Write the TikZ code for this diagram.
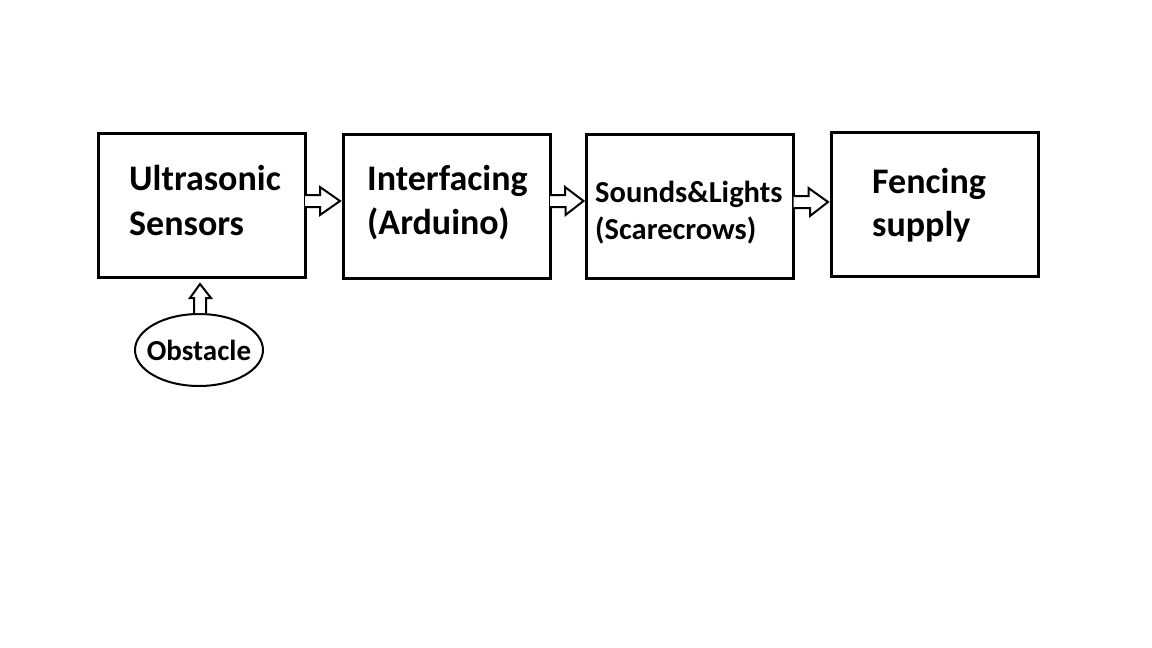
\documentclass[tikz,border=0pt]{standalone}
\usepackage{fontspec}
\setmainfont{Carlito}
\usetikzlibrary{shapes.geometric}
\begin{document}
\begin{tikzpicture}[x=1pt,y=-1pt,
  boxnode/.style={draw=black,line width=3pt,minimum width=207pt,minimum height=144pt,inner sep=0pt,outer sep=0pt},
  bigtxt/.style={font=\fontsize{36}{36}\selectfont\bfseries,anchor=base west,inner sep=0pt},
  midtxt/.style={font=\fontsize{30.5}{30.5}\selectfont\bfseries,anchor=base west,inner sep=0pt},
  hollowarrow/.style={draw=black,line width=2pt,fill=white,line join=miter}]
\useasboundingbox (0,0) rectangle (1152,648);
\fill[white] (0,0) rectangle (1152,648);
% boxes
\node[boxnode] (b1) at (201.5,205) {};
\node[boxnode] (b2) at (446.5,206) {};
\node[boxnode] (b3) at (690,206) {};
\node[boxnode] (b4) at (934.5,204) {};
% texts
\node[bigtxt] (t1a) at (129,190) {Ultrasonic};
\node[bigtxt] (t1b) at (129,235) {Sensors};
\node[bigtxt] (t2a) at (367,190) {Interfacing};
\node[bigtxt] (t2b) at (367,234) {(Arduino)};
\node[midtxt] (t3a) at (595,202) {Sounds\&Lights};
\node[midtxt] (t3b) at (595,239) {(Scarecrows)};
\node[bigtxt] (t4a) at (872,193) {Fencing};
\node[bigtxt] (t4b) at (872,236) {supply};
% obstacle
\node[draw=black,line width=2pt,ellipse,minimum width=128pt,minimum height=72pt,inner xsep=-10pt,inner ysep=0pt,
  font=\fontsize{29}{29}\selectfont\bfseries] (obs) at (199,350) {Obstacle};
% arrows
\draw[hollowarrow] (b1.east|-0,195) -- ++(15,0) -- ++(0,-8) -- ([xshift=-3]b2.west|-0,201) -- ++(-20,14) -- ++(0,-8) -- (b1.east|-0,207);
\draw[hollowarrow] (b2.east|-0,195) -- ++(15,0) -- ++(0,-8) -- ([xshift=-3]b3.west|-0,201) -- ++(-18,14) -- ++(0,-8) -- (b2.east|-0,207);
\draw[hollowarrow] (b3.east|-0,196) -- ++(15,0) -- ++(0,-8) -- ([xshift=-3]b4.west|-0,202) -- ++(-18,14) -- ++(0,-8) -- (b3.east|-0,208);
\draw[hollowarrow] (obs.north-|194,0) -- (194,298) -- (190,298) -- (200,284) -- (211,298) -- (206,298) -- (obs.north-|206,0);
\end{tikzpicture}
\end{document}
